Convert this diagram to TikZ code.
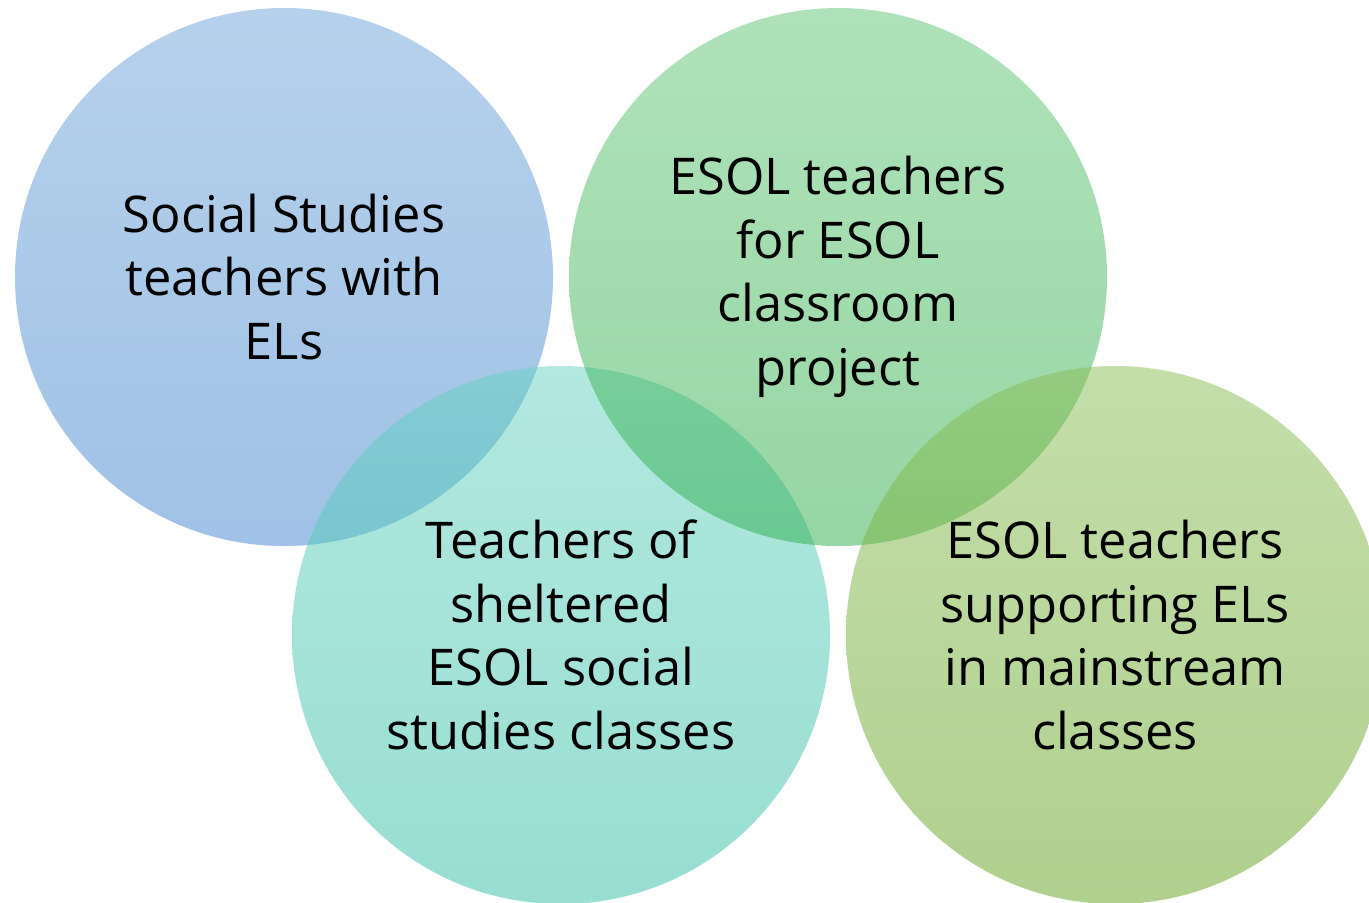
\documentclass[tikz,border=0pt]{standalone}
\usepackage{fontspec}
\setmainfont{Open Sans}
\usepackage{tikz}
\usetikzlibrary{positioning}

\begin{document}
\begin{tikzpicture}[line cap=round, line join=round]

% Colors
\definecolor{socialtop}{RGB}{109,163,217}
\definecolor{socialbot}{RGB}{65,133,205}
\definecolor{esoltop}{RGB}{97,197,117}
\definecolor{esolbot}{RGB}{45,173,73}
\definecolor{sheltop}{RGB}{101,209,193}
\definecolor{shelbot}{RGB}{49,189,165}
\definecolor{maintop}{RGB}{137,189,85}
\definecolor{mainbot}{RGB}{97,161,29}

\tikzset{
  group/.style={circle, minimum size=5.38cm, inner sep=0pt, align=center,
    fill opacity=0.5, text opacity=1, text=black,
    font=\fontsize{14.4pt}{18.1pt}\selectfont}
}

% Page
\useasboundingbox (0,0) rectangle (13.69,9.02);
\clip (0,0) rectangle (13.69,9.02);

% Circles
\node[group, top color=socialtop, bottom color=socialbot] (social) at (2.84,6.25)
  {Social Studies\\teachers with\\ELs};
\node[group, top color=sheltop, bottom color=shelbot] (sheltered) at (5.61,2.67)
  {Teachers of\\sheltered\\ESOL social\\studies classes};
\node[group, top color=esoltop, bottom color=esolbot] (esol) at (8.38,6.25)
  {ESOL teachers\\for ESOL\\classroom\\project};
\node[group, top color=maintop, bottom color=mainbot] (mainstream) at (11.15,2.67)
  {ESOL teachers\\supporting ELs\\in mainstream\\classes};
\end{tikzpicture}
\end{document}
